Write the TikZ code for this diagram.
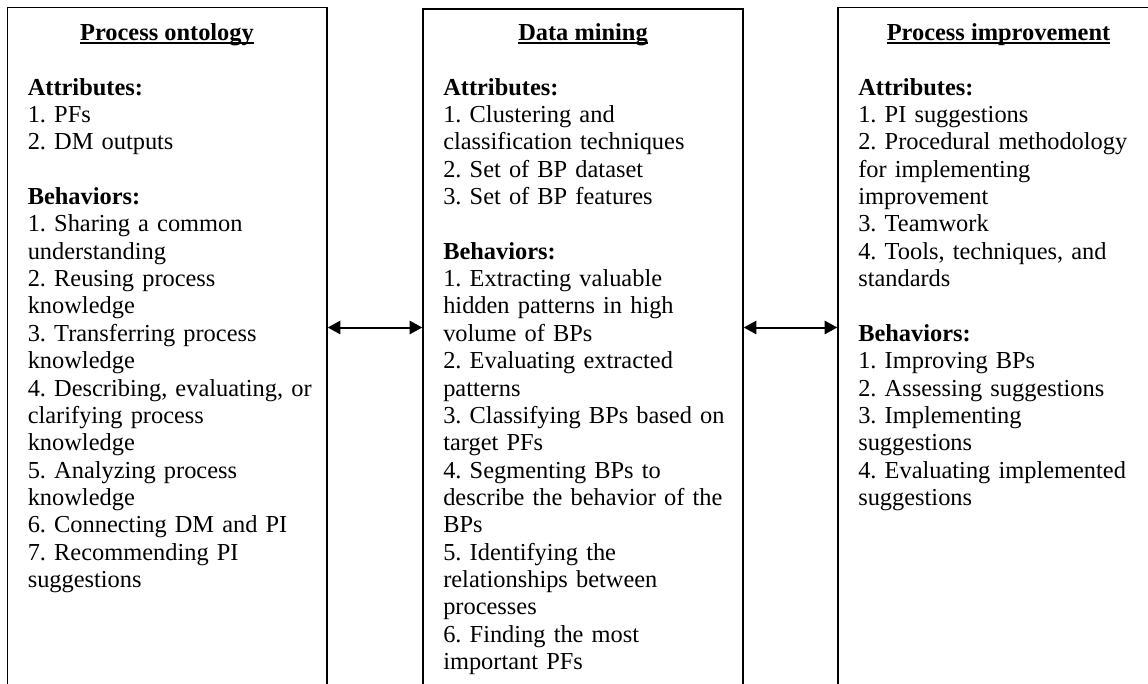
\documentclass[tikz,border=0pt]{standalone}
\usepackage{fontspec}
\setmainfont{Liberation Serif}
\usetikzlibrary{arrows.meta,fit}
\frenchspacing
\newcommand\myul[1]{\setbox0\hbox{#1}\rlap{\rule[-2.4pt]{\wd0}{1.1pt}}\box0}
\tikzset{
  box/.style={draw=black, line width=1.1pt, inner sep=0pt, rectangle},
  ttl/.style={anchor=base, inner sep=0pt, font=\fontsize{18.3pt}{20.51pt}\selectfont\bfseries},
  body/.style={anchor=base west, inner sep=0pt, text width=230pt, align=left, font=\fontsize{18.3pt}{20.51pt}\selectfont\frenchspacing},
  link/.style={line width=1.5pt, {Triangle[length=9.5pt,width=10pt]}-{Triangle[length=9.5pt,width=10pt]}}
}
\begin{document}
\begin{tikzpicture}[x=0.75pt,y=-0.75pt]
\useasboundingbox (0,0) rectangle (1148,684);
\fill[white] (0,0) rectangle (1148,684);
\node[box, fit={(7.5,7.5) (327,720)}] (po) {};
\node[box, fit={(423,9) (743,720)}] (dm) {};
\node[box, fit={(838,7.5) (1159,720)}] (pi) {};
\coordinate (ay) at (0,327.5);
\draw[link] (po.east |- ay) -- (dm.west |- ay);
\draw[link] (dm.east |- ay) -- (pi.west |- ay);

\node[ttl] (t1) at (167,40.5) {\myul{Process ontology}};
\node[ttl] (t2) at (583,40.5) {\myul{Data mining}};
\node[ttl] (t3) at (998.5,40.5) {\myul{Process improvement}};

\node[body] (b1) at (27.5,95.2) {\textbf{Attributes:}\\
1. PFs\\
2. DM outputs\\[20.51pt]
\textbf{Behaviors:}\\
1. Sharing a common\\
understanding\\
2. Reusing process\\
knowledge\\
3. Transferring process\\
knowledge\\
4. Describing, evaluating, or\\
clarifying process\\
knowledge\\
5. Analyzing process\\
knowledge\\
6. Connecting DM and PI\\
7. Recommending PI\\
suggestions};

\node[body] (b2) at (443,95.2) {\textbf{Attributes:}\\
1. Clustering and\\
classification techniques\\
2. Set of BP dataset\\
3. Set of BP features\\[20.51pt]
\textbf{Behaviors:}\\
1. Extracting valuable\\
hidden patterns in high\\
volume of BPs\\
2. Evaluating extracted\\
patterns\\
3. Classifying BPs based on\\
target PFs\\
4. Segmenting BPs to\\
describe the behavior of the\\
BPs\\
5. Identifying the\\
relationships between\\
processes\\
6. Finding the most\\
important PFs};

\node[body] (b3) at (858,95.2) {\textbf{Attributes:}\\
1. PI suggestions\\
2. Procedural methodology\\
for implementing\\
improvement\\
3. Teamwork\\
4. Tools, techniques, and\\
standards\\[20.51pt]
\textbf{Behaviors:}\\
1. Improving BPs\\
2. Assessing suggestions\\
3. Implementing\\
suggestions\\
4. Evaluating implemented\\
suggestions};
\end{tikzpicture}
\end{document}
